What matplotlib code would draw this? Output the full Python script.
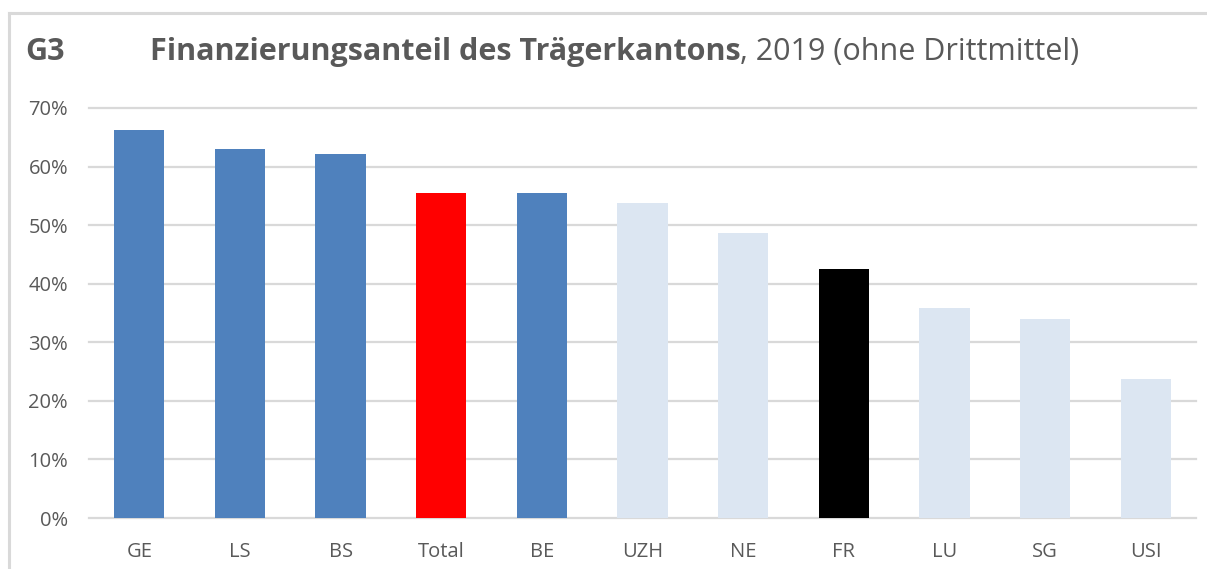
import matplotlib
matplotlib.use("Agg")
import matplotlib.pyplot as plt
from matplotlib.lines import Line2D
from matplotlib.ticker import PercentFormatter

plt.rcParams['font.family'] = ['Open Sans', 'DejaVu Sans']

# data
labels = ["GE", "LS", "BS", "Total", "BE", "UZH", "NE", "FR", "LU", "SG", "USI"]
values = [0.662, 0.630, 0.621, 0.555, 0.555, 0.538, 0.487, 0.425, 0.359, 0.340, 0.237]
groups = ["blue", "blue", "blue", "total", "blue", "light", "light", "fr", "light", "light", "light"]

palette = {"blue": "#4F81BD", "light": "#DCE6F2", "total": "#FF0000", "fr": "#000000"}
txt = "#595959"

fig = plt.figure(figsize=(12.07, 5.69), dpi=100)
ax = fig.add_axes([0.0737, 0.0896, 0.9173, 0.7206])

x = range(len(labels))
ax.bar(x, values, width=0.5, color=[palette[g] for g in groups], zorder=3)

ax.set_xlim(-0.5, len(labels) - 0.5)
ax.set_ylim(0, 0.7)
ax.set_yticks([i / 10 for i in range(8)])
ax.yaxis.set_major_formatter(PercentFormatter(1.0, decimals=0))
ax.set_xticks(list(x))
ax.set_xticklabels(labels)
ax.grid(axis="y", color="#D9D9D9", linewidth=1.6, zorder=0)
for g in ax.yaxis.get_gridlines():
    g.set_clip_on(False)
for s in ax.spines.values():
    s.set_visible(False)
ax.tick_params(length=0, labelsize=14.5, colors=txt)
ax.tick_params(axis="y", pad=15)
ax.tick_params(axis="x", pad=17)

# title
ty = 1 - 52 / 569
fig.text(0.021, ty, "G3", fontsize=22, fontweight="bold", color=txt, va="center")
t1 = fig.text(0.124, ty, "Finanzierungsanteil des Trägerkantons", fontsize=22,
              fontweight="bold", color=txt, va="center")
fig.canvas.draw()
bb = t1.get_window_extent()
fig.text(bb.x1 / fig.bbox.width, ty, ", 2019 (ohne Drittmittel)", fontsize=22,
         color=txt, va="center")

# frame lines
fig.add_artist(Line2D([9 / 1207, 1.0], [1 - 13 / 569] * 2, color="#D9D9D9", linewidth=2.2))
fig.add_artist(Line2D([9 / 1207] * 2, [0, 1 - 13 / 569], color="#D9D9D9", linewidth=2.2))

fig.savefig("out.png", dpi=100)
